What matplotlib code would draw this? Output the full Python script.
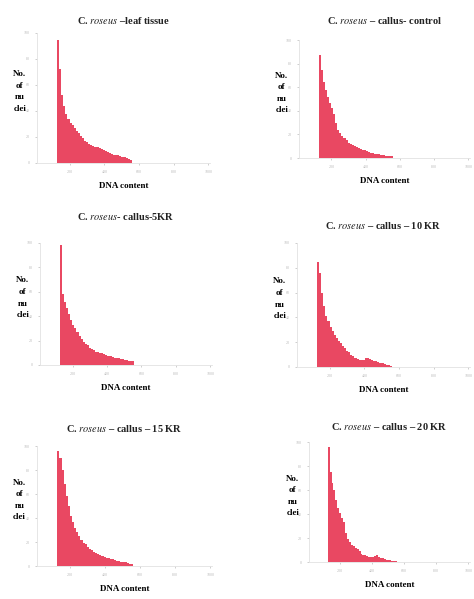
import matplotlib
matplotlib.use("Agg")
import matplotlib.pyplot as plt
import numpy as np

plt.rcParams["font.family"] = ["Liberation Serif", "DejaVu Serif"]
plt.rcParams["mathtext.fontset"] = "stix"

# DNA content bin edges, shared by all samples
bin_edges = np.arange(126, 570, 12)

# relative number of nuclei per bin
leaf = [95, 72, 52, 44, 38, 34, 31, 29, 27, 25, 23, 21, 19, 17, 16, 15, 14, 13,
        12.5, 12, 11.5, 11, 10, 9, 8.5, 8, 7, 6.5, 6, 6, 5.5, 5, 4.5, 4, 3, 2.5]
control = [87, 75, 64, 58, 52, 47, 42, 37, 30, 24, 21, 19, 17, 15, 13, 12, 11, 10,
           9, 8.5, 8, 7, 6.5, 6, 5, 4.5, 4, 3.5, 3, 3, 2.5, 2.5, 2, 2, 1.5, 1.5]
kr5 = [98, 58, 52, 47, 42, 37, 33, 30, 27, 24, 21, 19, 17, 16, 14, 13, 12, 11,
       10.5, 10, 9.5, 9, 8, 7.5, 7, 6.5, 6, 6, 5.5, 5, 5, 4.5, 4, 3.5, 3, 3]
kr10 = [85, 76, 60, 49, 41, 37, 32, 29, 26, 23, 21, 19, 17, 15, 13, 12, 10, 9,
        7.5, 6.5, 6, 5.5, 6, 7, 7, 6.5, 5.5, 5, 4.5, 4, 3.5, 3, 2.5, 2, 1.5, 1]
kr15 = [96, 90, 80, 68, 58, 50, 42, 37, 32, 28, 25, 22, 19.5, 18, 16, 14.5, 13, 12,
        11, 10, 9, 8.5, 7.5, 7, 6.5, 6, 5.5, 5, 4.5, 4, 3.5, 3, 3, 2.5, 2, 2]
kr20 = [96, 75, 66, 60, 52, 45, 41, 37, 33, 24, 19, 17, 14, 13, 12, 11, 9, 7,
        6, 5.5, 5, 4.5, 4, 4, 5, 5.5, 4.5, 3.5, 3, 2.5, 2, 1.5, 1.5, 1, 1, 0.5]

titles = ["leaf tissue", "callus- control", "callus-5KR",
          "callus \u2013 10 KR", "callus \u2013 15 KR", "callus \u2013 20 KR"]
title_sep = [" \u2013", " \u2013 ", "- ", " \u2013 ", " \u2013 ", " \u2013 "]
x_ticks = [200, 400, 600, 800, 1000]
y_ticks = [0, 20, 40, 60, 80, 100]

W, H = 474, 599
fig = plt.figure(figsize=(W / 100, H / 100), dpi=100)

# axes boxes in pixels: left, right, top, bottom
boxes = [(37, 210, 33, 163), (299, 470, 40, 158),
         (40, 212, 243, 365), (297, 470, 243, 367),
         (37, 212, 446, 566), (309, 470, 442, 562)]
title_y = [20, 20, 217, 225, 429, 427]
series = [leaf, control, kr5, kr10, kr15, kr20]

for i, (l, r, t, b) in enumerate(boxes):
    ax = fig.add_axes([l / W, 1 - b / H, (r - l) / W, (b - t) / H])
    ax.stairs(series[i], bin_edges, fill=True, color="#e94862")
    ax.set_xlim(10, 1010)
    ax.set_ylim(0, 100)
    ax.set_xticks(x_ticks)
    ax.set_yticks(y_ticks)
    ax.tick_params(labelsize=3, colors="#bbbbbb", length=1.5, width=0.5)
    for s in ["top", "right"]:
        ax.spines[s].set_visible(False)
    for s in ["left", "bottom"]:
        ax.spines[s].set_color("#e2e2e2")
        ax.spines[s].set_linewidth(0.6)
    ax.set_xlabel("DNA content", fontsize=6.5, fontweight="bold", labelpad=6)
    ax.text(-0.1, 0.55, "No.\nof\nnu\nclei", transform=ax.transAxes,
            ha="center", va="center", fontsize=6.5, fontweight="bold",
            linespacing=1.6)
    cx = (l + r) / 2 / W
    fig.text(cx, 1 - title_y[i] / H,
             r"C. $\it{roseus}$" + title_sep[i] + titles[i],
             ha="center", va="center", fontsize=7.5, fontweight="bold",
             color="#222222")

fig.savefig("out.png", dpi=100)
